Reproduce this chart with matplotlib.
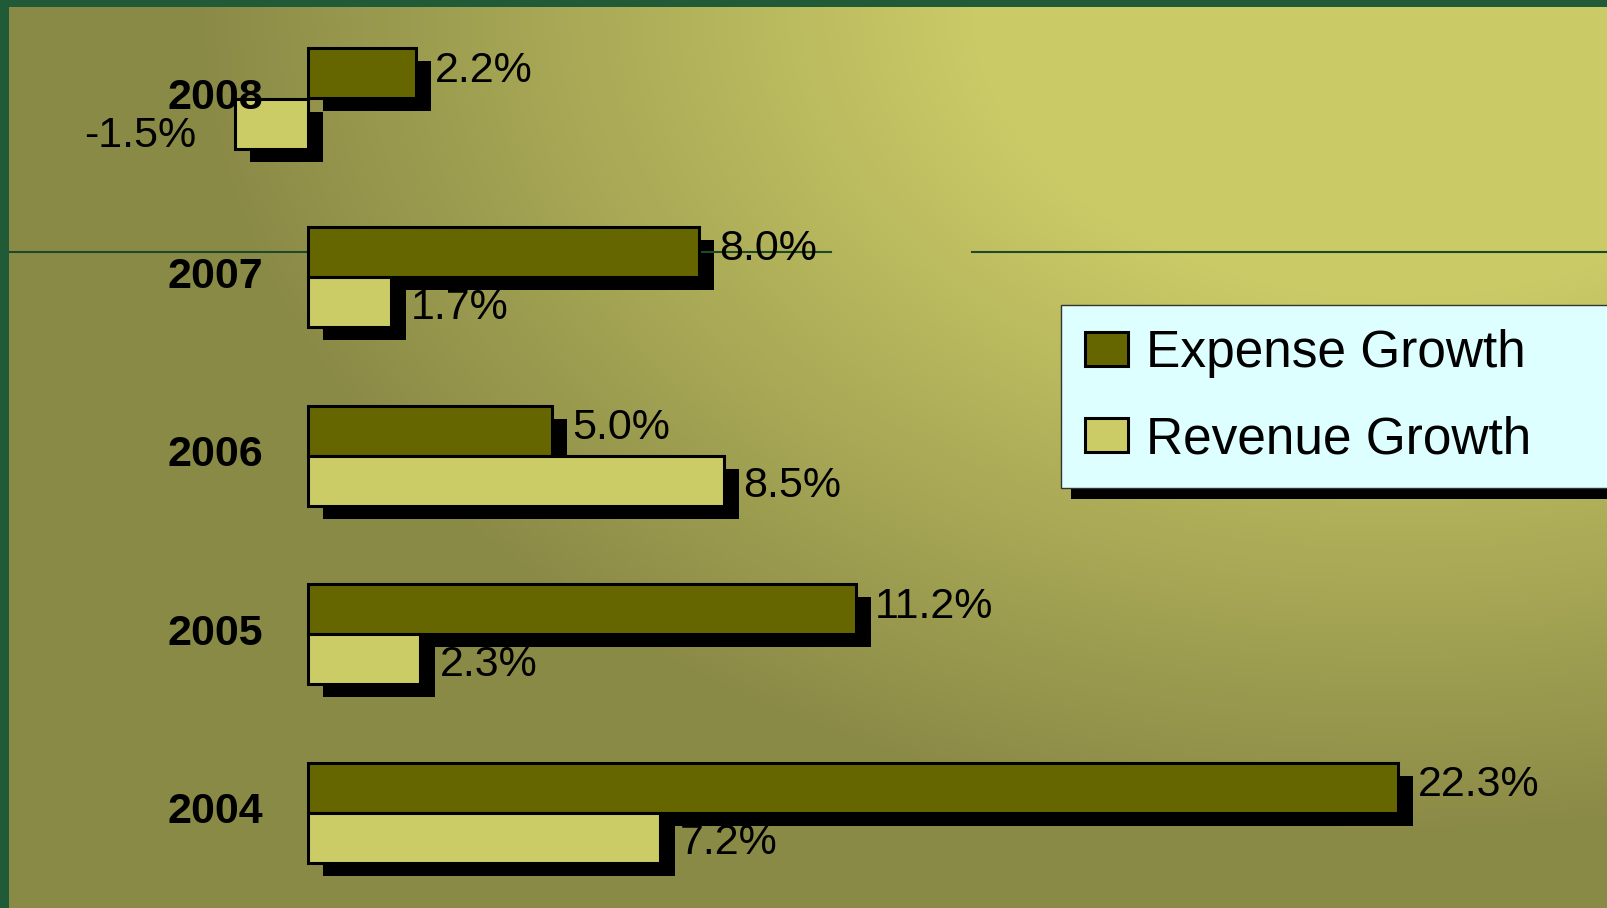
import matplotlib
matplotlib.use("Agg")
import matplotlib.pyplot as plt
import matplotlib.patheffects as pe
from matplotlib.transforms import ScaledTranslation
import numpy as np

# data (top to bottom as in the chart)
years = ["2008", "2007", "2006", "2005", "2004"]
expense_growth = [2.2, 8.0, 5.0, 11.2, 22.3]
revenue_growth = [-1.5, 1.7, 8.5, 2.3, 7.2]

EXPENSE_COLOR = "#666600"
REVENUE_COLOR = "#cccc66"
DARK_BG = np.array([0x8a, 0x8a, 0x47]) / 255
BRIGHT_BG = np.array([0xca, 0xca, 0x67]) / 255

plt.rcParams["font.family"] = ["Liberation Sans", "DejaVu Sans"]

W, H, DPI = 1608, 908, 100
fig = plt.figure(figsize=(W / DPI, H / DPI), dpi=DPI, facecolor="#215a36")

# axes sits inside the green border (left 9px, top 7px)
ax = fig.add_axes([9 / W, 0, (W - 9) / W, (H - 7) / H])

# background gradient, brightest at top right
ny, nx = 225, 400
xx, yy = np.meshgrid(np.linspace(0, 1, nx), np.linspace(0, 1, ny))
px = 9 + xx * (W - 9)
py = 7 + yy * (H - 7)
r = np.sqrt(((px - 1400) / 1300) ** 2 + (py / 900) ** 2)
t = np.clip((r - 0.33) / 0.6, 0, 1)[..., None]
img = BRIGHT_BG * (1 - t) + DARK_BG * t
ax.imshow(img, extent=(0, 1, 0, 1), transform=ax.transAxes, origin="upper",
          aspect="auto", zorder=0)

pos = np.arange(len(years))
h = 0.28

# thin dark green rule across the slide
ax.axhline(0.859, xmin=0, xmax=0.514, color="#1f4a28", lw=1.5, zorder=2)
ax.axhline(0.859, xmin=0.602, xmax=1, color="#1f4a28", lw=1.5, zorder=2)

# drop shadows
shadow_tr = ax.transData + ScaledTranslation(15 / DPI, -13 / DPI, fig.dpi_scale_trans)
ax.barh(pos - h / 2, expense_growth, height=h, color="black", transform=shadow_tr, zorder=1)
ax.barh(pos + h / 2, revenue_growth, height=h, color="black", transform=shadow_tr, zorder=1)

exp_bars = ax.barh(pos - h / 2, expense_growth, height=h, color=EXPENSE_COLOR,
                   edgecolor="black", linewidth=2.2, label="Expense Growth", zorder=3)
rev_bars = ax.barh(pos + h / 2, revenue_growth, height=h, color=REVENUE_COLOR,
                   edgecolor="black", linewidth=2.2, label="Revenue Growth", zorder=4)

# value labels
for p, v in zip(pos, expense_growth):
    ax.annotate(f"{v:.1f}%", xy=(v, p - h / 2), xytext=(14, 2), textcoords="offset points",
                ha="left", va="center", fontsize=31, zorder=5)
for p, v in zip(pos, revenue_growth):
    if v >= 0:
        ax.annotate(f"{v:.1f}%", xy=(v, p + h / 2), xytext=(14, -4), textcoords="offset points",
                    ha="left", va="center", fontsize=31, zorder=5)
    else:
        ax.annotate(f"{v:.1f}%", xy=(v, p + h / 2), xytext=(-28, -9), textcoords="offset points",
                    ha="right", va="center", fontsize=31, zorder=5)

# year labels hang off the zero line, drawn above the bars
ax.spines["left"].set_position(("data", 0))
ax.set_yticks(pos - 0.028)
ax.set_yticklabels(years, fontsize=31, fontweight="bold")
ax.tick_params(axis="y", length=0, pad=32)
ax.yaxis.set_zorder(7)
ax.set_xticks([])
for s in ax.spines.values():
    s.set_visible(False)

# scale: x=0 at pixel 308, 48.9 px per percent
ax.set_xlim((9 - 308) / 48.9, (W - 308) / 48.9)
ax.set_ylim((H - 98.5) / 178.6, (7 - 98.5) / 178.6)

leg = ax.legend(handles=[exp_bars, rev_bars], loc="upper left", mode="expand",
                bbox_to_anchor=(1061 / W, 1 - 305 / H, 0.37, 0), bbox_transform=fig.transFigure,
                borderaxespad=0, fontsize=37, frameon=True, fancybox=False,
                handlelength=0.84, handleheight=0.64, handletextpad=0.34,
                borderpad=0.47, labelspacing=0.72)
frame = leg.get_frame()
frame.set_facecolor("#ddffff")
frame.set_edgecolor("#333333")
frame.set_linewidth(1)
frame.set_alpha(1)
frame.set_path_effects([pe.SimplePatchShadow(offset=(7.4, -7.4), shadow_rgbFace="black", alpha=1),
                        pe.Normal()])
leg.set_zorder(6)

fig.savefig("out.png", dpi=DPI, facecolor=fig.get_facecolor())
